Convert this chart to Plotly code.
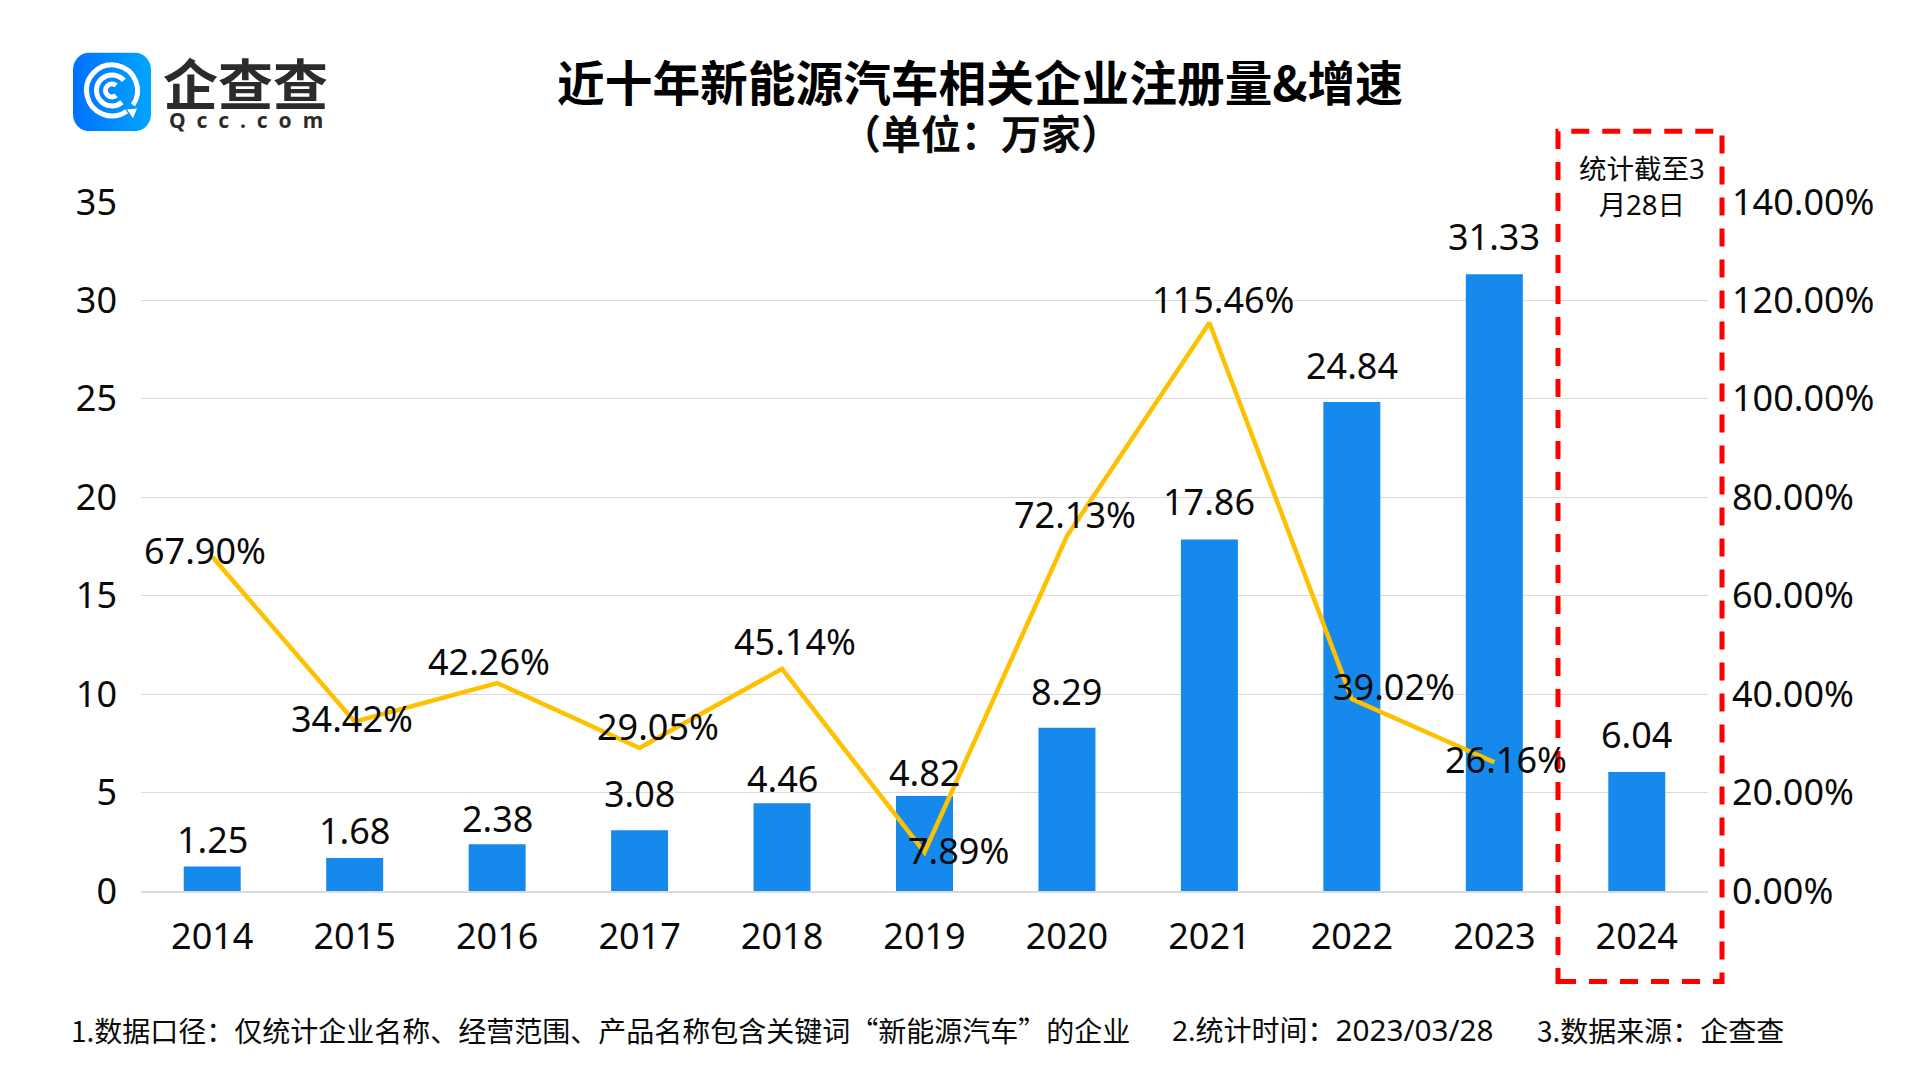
import base64
import math
import plotly.graph_objects as go

years = ["2014", "2015", "2016", "2017", "2018", "2019", "2020", "2021", "2022", "2023", "2024"]
registrations = [1.25, 1.68, 2.38, 3.08, 4.46, 4.82, 8.29, 17.86, 24.84, 31.33, 6.04]
growth_pct = [67.90, 34.42, 42.26, 29.05, 45.14, 7.89, 72.13, 115.46, 39.02, 26.16, None]
left_ticks = [0, 5, 10, 15, 20, 25, 30, 35]
right_ticks = [0, 20, 40, 60, 80, 100, 120, 140]
right_tick_labels = ["0.00%", "20.00%", "40.00%", "60.00%", "80.00%", "100.00%", "120.00%", "140.00%"]

title_text = "近十年新能源汽车相关企业注册量&增速"
subtitle_text = "（单位：万家）"
box_note = "统计截至3<br>月28日"
foot_notes = [
    "1.数据口径：仅统计企业名称、经营范围、产品名称包含关键词“新能源汽车”的企业",
    "2.统计时间：<span style=\"font-size:29.7px\">2023/03/28</span>",
    "3.数据来源：企查查",
]

# label offsets from the mark, pixels
bar_label_up = [26, 27, 25, 36, 24, 23, 36, 37, 36, 37, 37]
line_label_dx = [-7, -3, -8, 18, 13, 34, 8, 14, 42, 12]
line_label_up = [6, 3, 21, 21, 27, 1, 21, 23, 12, 2]

W, H = 1920, 1080
L, R, T, B = 141, 1708, 201.7, 891.3
CJK = "Noto Sans CJK SC"
LATIN = "Noto Sans, Noto Sans CJK SC"
INK = "#0a0a0a"
GRID = "#DADADA"
NUM_SIZE = 36


def arc(cx, cy, r, a0, a1):
    x0, y0 = cx + r * math.cos(math.radians(a0)), cy + r * math.sin(math.radians(a0))
    x1, y1 = cx + r * math.cos(math.radians(a1)), cy + r * math.sin(math.radians(a1))
    large = 1 if (a1 - a0) % 360 > 180 else 0
    return f"M{x0:.2f} {y0:.2f}A{r} {r} 0 {large} 1 {x1:.2f} {y1:.2f}"


icon_paths = " ".join([arc(39, 38, 25.5, 55, 35), arc(39, 38, 15.5, 50, 320), arc(39, 38, 6.5, 50, 310)])
icon_svg = f"""<svg xmlns="http://www.w3.org/2000/svg" width="78" height="79" viewBox="0 0 78 79">
<defs><linearGradient id="g" x1="0" x2="1" y1="0" y2="0"><stop offset="0" stop-color="#0070FF"/><stop offset="1" stop-color="#00A6FF"/></linearGradient></defs>
<rect width="78" height="79" rx="17" fill="url(#g)"/>
<path d="{icon_paths}" fill="none" stroke="#fff" stroke-width="5"/>
<path d="M54 57 L64 56 L60 66 Z" fill="#fff"/>
</svg>"""
icon_uri = "data:image/svg+xml;base64," + base64.b64encode(icon_svg.encode()).decode()

fig = go.Figure()
fig.add_bar(x=years, y=registrations, width=0.4, marker=dict(color="#1589EC", line_width=0), yaxis="y", hoverinfo="x+y")
fig.add_scatter(x=years, y=growth_pct, mode="lines", yaxis="y2", line=dict(color="#FFC000", width=4.5), hoverinfo="x+y")

annotations = []


def note(text, x, y, size, family=CJK, color=INK, xanchor="center", **kw):
    annotations.append(dict(text=text, x=x, y=y, xref="paper", yref="paper", xanchor=xanchor, yanchor="middle",
                            showarrow=False, borderpad=0, font=dict(size=size, family=family, color=color), **kw))


def px_x(p):
    return (p - L) / (R - L)


def px_y(p):
    return (B - p) / (B - T)


for i, (value, up) in enumerate(zip(registrations, bar_label_up)):
    annotations.append(dict(text=f"{value:.2f}", x=i, y=value, xref="x", yref="y", yanchor="middle", xanchor="center",
                            yshift=up + 0.5, showarrow=False, borderpad=0, font=dict(size=NUM_SIZE, family=LATIN, color=INK)))
for i, (value, dx, up) in enumerate(zip(growth_pct, line_label_dx, line_label_up)):
    annotations.append(dict(text=f"{value:.2f}%", x=i, y=value, xref="x", yref="y2", yanchor="middle", xanchor="center",
                            xshift=dx, yshift=up + 0.5, showarrow=False, borderpad=0, font=dict(size=NUM_SIZE, family=LATIN, color=INK)))

note(f"<b>{subtitle_text}</b>", px_x(981), px_y(132), 40)
note(box_note, px_x(1642), px_y(186), 27.5, family=LATIN)
note(foot_notes[0], px_x(69.5), px_y(1030), 28, xanchor="left")
note(foot_notes[1], px_x(1171), px_y(1030), 28, family=LATIN, xanchor="left")
note(foot_notes[2], px_x(1536), px_y(1030), 28, xanchor="left")
note("<b>企查查</b>", px_x(245.5), px_y(81), 55, color="#2B2B2B")
note("<b>Q\u00a0\u00a0c\u00a0\u00a0c\u00a0\u00a0.\u00a0\u00a0c\u00a0\u00a0o\u00a0\u00a0m</b>", px_x(246), px_y(120), 21, family="Noto Sans", color="#2B2B2B")

fig.update_layout(
    width=W, height=H, autosize=False,
    margin=dict(l=L, r=W - R, t=T, b=H - B, pad=0),
    paper_bgcolor="white", plot_bgcolor="white", showlegend=False, bargap=0.6,
    title=dict(text=f"<b>{title_text}</b>", x=980 / W, xanchor="center", xref="container",
               y=1 - 84 / H, yanchor="middle", font=dict(size=47.7, family=CJK, color="#000000")),
    xaxis=dict(type="category", range=[-0.5, 10.5], showgrid=False, showline=True, linecolor=GRID, linewidth=1.5,
               ticks="", ticklabelstandoff=13, tickfont=dict(size=NUM_SIZE, family=LATIN, color=INK)),
    yaxis=dict(range=[0, 35], tickvals=left_ticks, showgrid=True, gridcolor=GRID, gridwidth=1.25, zeroline=False, showline=False,
               ticks="", ticklabelstandoff=23, tickfont=dict(size=NUM_SIZE, family=LATIN, color=INK)),
    yaxis2=dict(range=[0, 140], tickvals=right_ticks, ticktext=right_tick_labels, overlaying="y", side="right", showgrid=False,
                zeroline=False, showline=False, ticks="", ticklabelstandoff=23, tickfont=dict(size=NUM_SIZE, family=LATIN, color=INK)),
    annotations=annotations,
    images=[dict(source=icon_uri, xref="paper", yref="paper", x=px_x(73), y=px_y(52), sizex=78 / (R - L), sizey=79 / (B - T),
                 xanchor="left", yanchor="top", sizing="stretch", layer="above")],
    shapes=[dict(type="rect", xref="paper", yref="paper", x0=px_x(1558), x1=px_x(1722), y0=px_y(982), y1=px_y(131),
                 line=dict(color="#FF0000", width=5, dash="18px,13px"), fillcolor="rgba(0,0,0,0)", layer="above")],
)

fig.write_html("out.html", config=dict(displayModeBar=False, responsive=False),
               post_script="document.body.style.margin='0';")
